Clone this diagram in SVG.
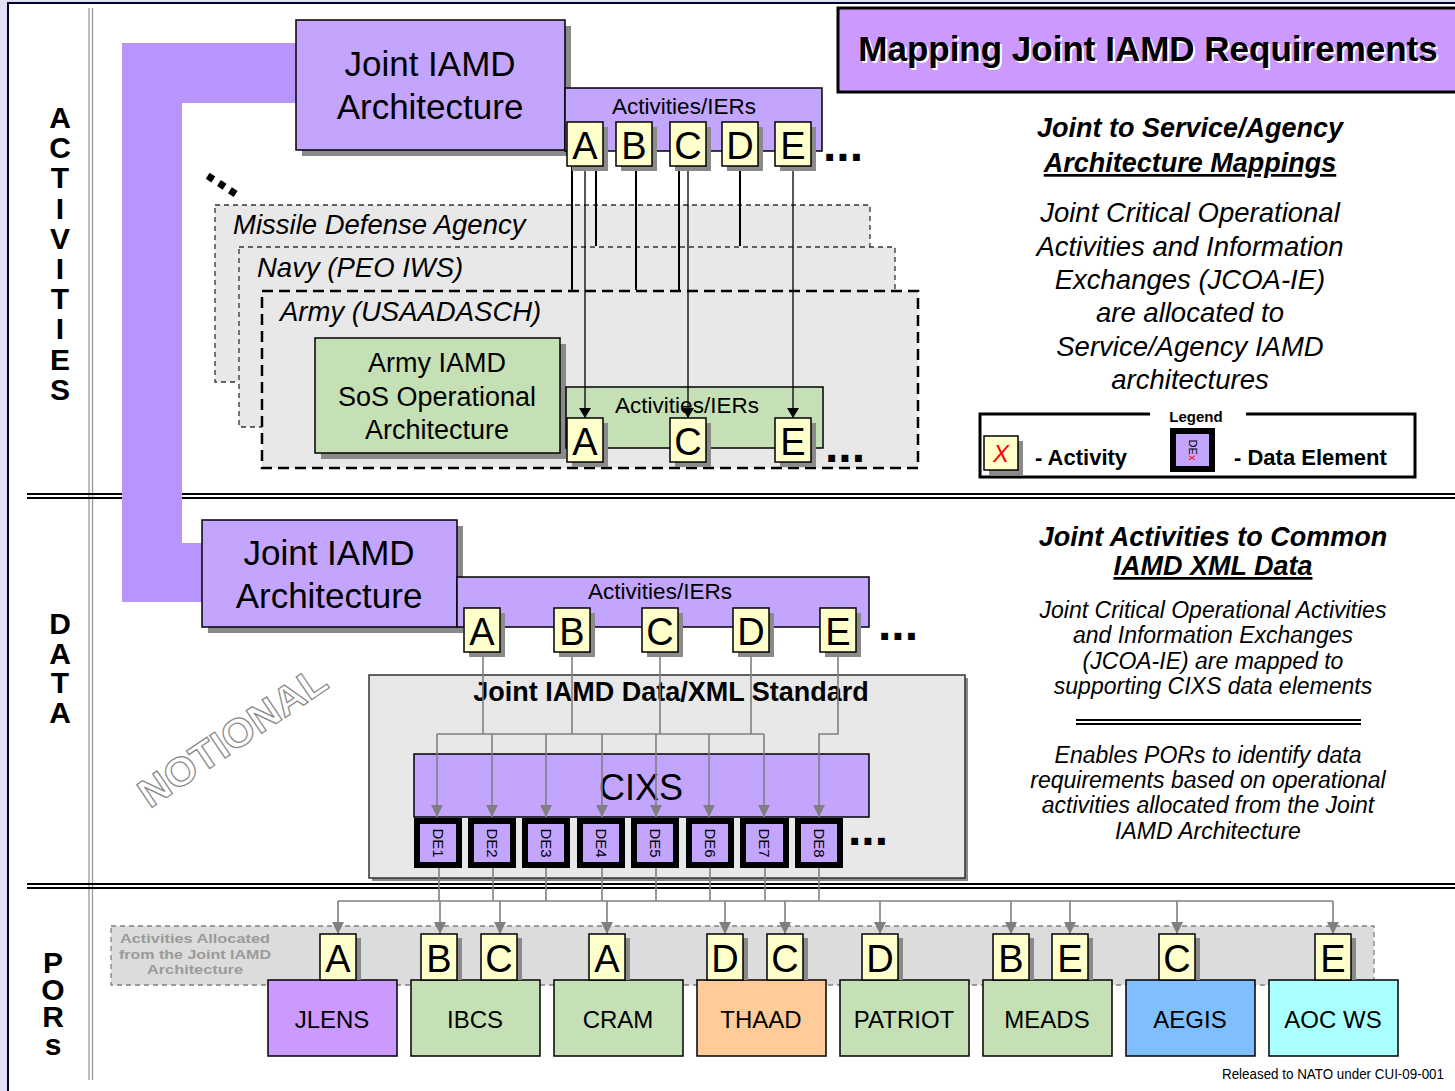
<svg xmlns="http://www.w3.org/2000/svg" width="1455" height="1091" viewBox="0 0 1455 1091">
<defs>
<style>
.f{font-family:"Liberation Sans",Arial,sans-serif}
.sh{fill:#8a8a8a}
.yb{fill:#ffffcc;stroke:#000;stroke-width:1.5}
.lt{font-family:"Liberation Sans",Arial,sans-serif;font-size:38px;text-anchor:middle;fill:#000}
.pb{fill:#c3a5fd;stroke:#000;stroke-width:1.5}
.gb{fill:#c5e0b4;stroke:#000;stroke-width:1.5}
.side{font-family:"Liberation Sans",Arial,sans-serif;font-size:30px;font-weight:bold;writing-mode:vertical-rl;text-orientation:upright}
.ri{font-family:"Liberation Sans",Arial,sans-serif;font-style:italic;text-anchor:middle;fill:#000}
.bk{stroke:#000;stroke-width:2;fill:none}
.bt{stroke:#000;stroke-width:1.3;fill:none}
.gy{stroke:#7f7f7f;stroke-width:1.6;fill:none}
.de{fill:#c3a5fd;stroke:#000;stroke-width:6}
.det{font-family:"Liberation Sans",Arial,sans-serif;font-size:15px;text-anchor:middle}
.por{stroke:#000;stroke-width:1.5}
.pt{font-family:"Liberation Sans",Arial,sans-serif;font-size:24px;text-anchor:middle}
.dots{font-family:"Liberation Sans",Arial,sans-serif;font-size:48px;font-weight:bold}
.alloc{font-family:"Liberation Sans",Arial,sans-serif;font-size:13.5px;font-weight:bold;text-anchor:middle;fill:#9a9a9a}
</style>
<marker id="ab" markerWidth="10" markerHeight="12" refX="10" refY="6" orient="auto" markerUnits="userSpaceOnUse"><path d="M0,0 L10,6 L0,12 z" fill="#000"/></marker>
<marker id="ag" markerWidth="12" markerHeight="12" refX="12" refY="6" orient="auto" markerUnits="userSpaceOnUse"><path d="M0,0 L12,6 L0,12 z" fill="#7f7f7f"/></marker>
</defs>

<!-- frame -->
<rect x="0" y="0" width="1455" height="1091" fill="#e1e1f5"/>
<rect x="8" y="3" width="1460" height="1100" fill="#fff" stroke="#000033" stroke-width="2"/>
<line x1="89" y1="8" x2="89" y2="1080" stroke="#999" stroke-width="1.3"/>
<line x1="92.5" y1="8" x2="92.5" y2="1080" stroke="#999" stroke-width="1.3"/>
<g id="separators">
<line x1="27" y1="494" x2="1455" y2="494" stroke="#000" stroke-width="1.8"/>
<line x1="27" y1="498" x2="1455" y2="498" stroke="#000" stroke-width="1.8"/>
<line x1="27" y1="884" x2="1455" y2="884" stroke="#000" stroke-width="1.8"/>
<line x1="27" y1="888" x2="1455" y2="888" stroke="#000" stroke-width="1.8"/>
</g>

<!-- side labels -->
<text id="side-activities" class="side" x="60" y="101" letter-spacing="-2.8">ACTIVITIES</text>
<text id="side-data" class="side" x="60" y="607" letter-spacing="-3.4">DATA</text>
<text id="side-pors" class="side" x="53" y="946" letter-spacing="-5.8">PORs</text>

<!-- purple band -->
<path id="band" d="M122 43 H296 V103 H182 V543 H202 V602 H122 Z" fill="#b895fc"/>

<!-- title -->
<g id="title">
<rect x="838" y="8" width="620" height="84" fill="#cc99ff" stroke="#000" stroke-width="3"/>
<text class="f" x="1150" y="63" font-size="35" font-weight="bold" text-anchor="middle" fill="#fff">Mapping Joint IAMD Requirements</text>
<text class="f" x="1148" y="61" font-size="35" font-weight="bold" text-anchor="middle">Mapping Joint IAMD Requirements</text>
</g>

<!-- agency containers -->
<g id="mda">
<rect x="215" y="205" width="655" height="177" fill="#e8e8e8" stroke="#333" stroke-width="1.3" stroke-dasharray="5 4"/>
<text class="f" x="233" y="234" font-size="27.5" font-style="italic">Missile Defense Agency</text>
</g>
<g id="navy">
<rect x="239" y="247" width="656" height="180" fill="#e8e8e8" stroke="#333" stroke-width="1.3" stroke-dasharray="5 4"/>
<text class="f" x="257" y="277" font-size="27.5" font-style="italic">Navy (PEO IWS)</text>
</g>
<g id="army">
<rect x="262" y="291" width="656" height="177" fill="#e8e8e8" stroke="#000" stroke-width="2.5" stroke-dasharray="11 6"/>
<text class="f" x="280" y="321" font-size="27.5" font-style="italic">Army (USAADASCH)</text>
</g>

<!-- joint IAMD architecture (activities) -->
<g id="joint-arch-top">
<rect class="sh" x="302" y="26" width="269" height="130"/>
<rect class="pb" x="296" y="20" width="269" height="130"/>
<text class="f" x="430" y="76" font-size="35" text-anchor="middle">Joint IAMD</text>
<text class="f" x="430" y="119" font-size="35" text-anchor="middle">Architecture</text>
</g>
<g id="ier-bar-top">
<rect class="pb" x="565" y="88" width="257" height="63" stroke-width="1.2"/>
<text class="f" x="684" y="114" font-size="22.5" text-anchor="middle">Activities/IERs</text>
</g>

<!-- army SoS -->
<g id="army-sos">
<rect class="sh" x="321" y="344" width="245" height="115"/>
<rect class="gb" x="315" y="338" width="245" height="115"/>
<text class="f" x="437" y="372" font-size="27" text-anchor="middle">Army IAMD</text>
<text class="f" x="437" y="406" font-size="27" text-anchor="middle">SoS Operational</text>
<text class="f" x="437" y="439" font-size="27" text-anchor="middle">Architecture</text>
</g>
<g id="ier-bar-army">
<rect class="gb" x="566" y="387" width="257" height="61" stroke-width="1.2"/>
<text class="f" x="687" y="413" font-size="22.5" text-anchor="middle">Activities/IERs</text>
</g>

<!-- right text 1 -->
<g id="note-1" class="ri">
<text x="1190" y="137" font-size="27" font-weight="bold">Joint to Service/Agency</text>
<text x="1190" y="172" font-size="27" font-weight="bold" text-decoration="underline">Architecture Mappings</text>
<text x="1190" y="222" font-size="27.5">Joint Critical Operational</text>
<text x="1190" y="256" font-size="27.5">Activities and Information</text>
<text x="1190" y="289" font-size="27.5">Exchanges (JCOA-IE)</text>
<text x="1190" y="322" font-size="27.5">are allocated to</text>
<text x="1190" y="356" font-size="27.5">Service/Agency IAMD</text>
<text x="1190" y="389" font-size="27.5">architectures</text>
</g>

<!-- legend -->
<g id="legend">
<path d="M1150 414 H980 V477 H1415 V414 H1246" fill="none" stroke="#000" stroke-width="3"/>
<text class="f" x="1196" y="422" font-size="15" font-weight="bold" text-anchor="middle">Legend</text>
<rect class="sh" x="989" y="441" width="34" height="34"/>
<rect class="yb" x="984" y="436" width="34" height="34"/>
<text class="f" x="1001" y="462" font-size="24" font-style="italic" text-anchor="middle" fill="#ff0000">X</text>
<text class="f" x="1035" y="465" font-size="22" font-weight="bold">- Activity</text>
<rect class="de" x="1173" y="431" width="39" height="38"/>
<text class="f" transform="translate(1189,450) rotate(90)" font-size="11" text-anchor="middle">DE<tspan fill="#ff0000">x</tspan></text>
<text class="f" x="1234" y="465" font-size="22" font-weight="bold">- Data Element</text>
</g>

<!-- data section -->
<g id="joint-arch-data">
<rect class="sh" x="208" y="526" width="255" height="107"/>
<rect class="pb" x="202" y="520" width="255" height="107"/>
<text class="f" x="329" y="565" font-size="35" text-anchor="middle">Joint IAMD</text>
<text class="f" x="329" y="608" font-size="35" text-anchor="middle">Architecture</text>
</g>
<g id="ier-bar-data">
<rect class="pb" x="457" y="577" width="412" height="50" stroke-width="1.2"/>
<text class="f" x="660" y="599" font-size="22.5" text-anchor="middle">Activities/IERs</text>
</g>
<g id="xml-standard">
<rect x="372" y="678" width="596" height="203" fill="#8a8a8a"/>
<rect x="369" y="675" width="596" height="203" fill="#e8e8e8" stroke="#333" stroke-width="1.5"/>
<text class="f" x="671" y="701" font-size="27" font-weight="bold" text-anchor="middle">Joint IAMD Data/XML Standard</text>
</g>
<g id="cixs">
<rect class="pb" x="414" y="754" width="455" height="63" stroke-width="1.2"/>
<text class="f" x="641" y="800" font-size="36" text-anchor="middle">CIXS</text>
</g>

<!-- notional -->
<text id="notional" class="f" transform="translate(240,748) rotate(-34)" font-size="40" font-weight="bold" text-anchor="middle" fill="#fff" stroke="#888" stroke-width="1.2" textLength="218" lengthAdjust="spacingAndGlyphs">NOTIONAL</text>

<!-- right text 2 -->
<g id="note-2" class="ri">
<text x="1213" y="546" font-size="27" font-weight="bold">Joint Activities to Common</text>
<text x="1213" y="575" font-size="27" font-weight="bold" text-decoration="underline">IAMD XML Data</text>
<text x="1213" y="618" font-size="23">Joint Critical Operational Activities</text>
<text x="1213" y="643" font-size="23">and Information Exchanges</text>
<text x="1213" y="669" font-size="23">(JCOA-IE) are mapped to</text>
<text x="1213" y="694" font-size="23">supporting CIXS data elements</text>
<text x="1208" y="763" font-size="23">Enables PORs to identify data</text>
<text x="1208" y="788" font-size="23">requirements based on operational</text>
<text x="1208" y="813" font-size="23">activities allocated from the Joint</text>
<text x="1208" y="839" font-size="23">IAMD Architecture</text>
</g>
<line x1="1076" y1="720" x2="1361" y2="720" stroke="#000" stroke-width="2"/>
<line x1="1076" y1="724" x2="1361" y2="724" stroke="#000" stroke-width="2"/>

<!-- POR allocated band -->
<g id="allocated-band">
<rect x="111" y="926" width="1263" height="59" fill="#dcdcdc" stroke="#808080" stroke-width="1.3" stroke-dasharray="5 4"/>
<text class="alloc" x="195" y="943" textLength="150" lengthAdjust="spacingAndGlyphs">Activities Allocated</text>
<text class="alloc" x="195" y="958.5" textLength="152" lengthAdjust="spacingAndGlyphs">from the Joint IAMD</text>
<text class="alloc" x="195" y="974" textLength="96" lengthAdjust="spacingAndGlyphs">Architecture</text>
</g>

<!-- connectors -->
<g id="connectors">
<path class="bk" d="M572 166 V290"/>
<path class="bt" d="M585 166 V418" marker-end="url(#ab)"/>
<path class="bk" d="M596 166 V246"/>
<path class="bk" d="M636 166 V290"/>
<path class="bk" d="M679 166 V290"/>
<path class="bt" d="M688 166 V418" marker-end="url(#ab)"/>
<path class="bk" d="M740 166 V246"/>
<path class="bt" d="M793 166 V418" marker-end="url(#ab)"/>

<path class="gy" d="M483 652 V734"/>
<path class="gy" d="M572 652 V734"/>
<path class="gy" d="M660 652 V734"/>
<path class="gy" d="M751 652 V734"/>
<path class="gy" d="M437 734 H764"/>
<path class="gy" d="M838 652 V734 H819 V817" marker-end="url(#ag)"/>
<path class="gy" d="M437 734 V817" marker-end="url(#ag)"/>
<path class="gy" d="M492 734 V817" marker-end="url(#ag)"/>
<path class="gy" d="M546 734 V817" marker-end="url(#ag)"/>
<path class="gy" d="M602 734 V817" marker-end="url(#ag)"/>
<path class="gy" d="M656 734 V817" marker-end="url(#ag)"/>
<path class="gy" d="M709 734 V817" marker-end="url(#ag)"/>
<path class="gy" d="M764 734 V817" marker-end="url(#ag)"/>

<path class="gy" d="M439 868 V901"/>
<path class="gy" d="M493 868 V901"/>
<path class="gy" d="M546 868 V901"/>
<path class="gy" d="M602 868 V901"/>
<path class="gy" d="M656 868 V901"/>
<path class="gy" d="M710 868 V901"/>
<path class="gy" d="M765 868 V901"/>
<path class="gy" d="M819 868 V901"/>
<path class="gy" d="M338 901 H1333"/>
<path class="gy" d="M338 901 V934" marker-end="url(#ag)"/>
<path class="gy" d="M440 901 V934" marker-end="url(#ag)"/>
<path class="gy" d="M500 901 V934" marker-end="url(#ag)"/>
<path class="gy" d="M607 901 V934" marker-end="url(#ag)"/>
<path class="gy" d="M725 901 V934" marker-end="url(#ag)"/>
<path class="gy" d="M785 901 V934" marker-end="url(#ag)"/>
<path class="gy" d="M880 901 V934" marker-end="url(#ag)"/>
<path class="gy" d="M1011 901 V934" marker-end="url(#ag)"/>
<path class="gy" d="M1070 901 V934" marker-end="url(#ag)"/>
<path class="gy" d="M1177 901 V934" marker-end="url(#ag)"/>
<path class="gy" d="M1333 901 V934" marker-end="url(#ag)"/>
</g>

<!-- top activity letters -->
<g id="top-A"><rect class="sh" x="572" y="127" width="36" height="44"/><rect class="yb" x="567" y="122" width="36" height="44"/><text class="lt" x="585" y="159">A</text></g>
<g id="top-B"><rect class="sh" x="621" y="127" width="36" height="44"/><rect class="yb" x="616" y="122" width="36" height="44"/><text class="lt" x="634" y="159">B</text></g>
<g id="top-C"><rect class="sh" x="675" y="127" width="36" height="44"/><rect class="yb" x="670" y="122" width="36" height="44"/><text class="lt" x="688" y="159">C</text></g>
<g id="top-D"><rect class="sh" x="727" y="127" width="36" height="44"/><rect class="yb" x="722" y="122" width="36" height="44"/><text class="lt" x="740" y="159">D</text></g>
<g id="top-E"><rect class="sh" x="780" y="127" width="36" height="44"/><rect class="yb" x="775" y="122" width="36" height="44"/><text class="lt" x="793" y="159">E</text></g>
<text class="dots" x="823" y="161">...</text>
<text class="dots" transform="translate(203,177) rotate(33)" font-size="40">...</text>

<!-- army letters -->
<g id="army-A"><rect class="sh" x="572" y="423" width="36" height="44"/><rect class="yb" x="567" y="418" width="36" height="44"/><text class="lt" x="585" y="455">A</text></g>
<g id="army-C"><rect class="sh" x="675" y="423" width="36" height="44"/><rect class="yb" x="670" y="418" width="36" height="44"/><text class="lt" x="688" y="455">C</text></g>
<g id="army-E"><rect class="sh" x="780" y="423" width="36" height="44"/><rect class="yb" x="775" y="418" width="36" height="44"/><text class="lt" x="793" y="455">E</text></g>
<text class="dots" x="825" y="462">...</text>

<!-- data letters -->
<g id="data-A"><rect class="sh" x="469" y="613" width="36" height="44"/><rect class="yb" x="464" y="608" width="36" height="44"/><text class="lt" x="482" y="645">A</text></g>
<g id="data-B"><rect class="sh" x="559" y="613" width="36" height="44"/><rect class="yb" x="554" y="608" width="36" height="44"/><text class="lt" x="572" y="645">B</text></g>
<g id="data-C"><rect class="sh" x="647" y="613" width="36" height="44"/><rect class="yb" x="642" y="608" width="36" height="44"/><text class="lt" x="660" y="645">C</text></g>
<g id="data-D"><rect class="sh" x="738" y="613" width="36" height="44"/><rect class="yb" x="733" y="608" width="36" height="44"/><text class="lt" x="751" y="645">D</text></g>
<g id="data-E"><rect class="sh" x="825" y="613" width="36" height="44"/><rect class="yb" x="820" y="608" width="36" height="44"/><text class="lt" x="838" y="645">E</text></g>
<text class="dots" x="878" y="640">...</text>

<!-- data elements -->
<g id="de1"><rect class="de" x="417" y="821" width="42" height="44"/><text class="det" transform="translate(438,843) rotate(90)" dy="5">DE1</text></g>
<g id="de2"><rect class="de" x="471" y="821" width="42" height="44"/><text class="det" transform="translate(492,843) rotate(90)" dy="5">DE2</text></g>
<g id="de3"><rect class="de" x="525" y="821" width="42" height="44"/><text class="det" transform="translate(546,843) rotate(90)" dy="5">DE3</text></g>
<g id="de4"><rect class="de" x="580" y="821" width="42" height="44"/><text class="det" transform="translate(601,843) rotate(90)" dy="5">DE4</text></g>
<g id="de5"><rect class="de" x="634" y="821" width="42" height="44"/><text class="det" transform="translate(655,843) rotate(90)" dy="5">DE5</text></g>
<g id="de6"><rect class="de" x="689" y="821" width="42" height="44"/><text class="det" transform="translate(710,843) rotate(90)" dy="5">DE6</text></g>
<g id="de7"><rect class="de" x="743" y="821" width="43" height="44"/><text class="det" transform="translate(764,843) rotate(90)" dy="5">DE7</text></g>
<g id="de8"><rect class="de" x="798" y="821" width="42" height="44"/><text class="det" transform="translate(819,843) rotate(90)" dy="5">DE8</text></g>
<text class="dots" x="848" y="845" font-size="44">...</text>

<!-- PORs -->
<g id="por-jlens"><rect class="por" x="268" y="980" width="129" height="76" fill="#cc99ff"/><text class="pt" x="332" y="1028">JLENS</text></g>
<g id="por-ibcs"><rect class="por" x="411" y="980" width="129" height="76" fill="#c5e0b4"/><text class="pt" x="475" y="1028">IBCS</text></g>
<g id="por-cram"><rect class="por" x="554" y="980" width="129" height="76" fill="#c5e0b4"/><text class="pt" x="618" y="1028">CRAM</text></g>
<g id="por-thaad"><rect class="por" x="697" y="980" width="129" height="76" fill="#ffcc99"/><text class="pt" x="761" y="1028">THAAD</text></g>
<g id="por-patriot"><rect class="por" x="840" y="980" width="129" height="76" fill="#c5e0b4"/><text class="pt" x="904" y="1028">PATRIOT</text></g>
<g id="por-meads"><rect class="por" x="983" y="980" width="129" height="76" fill="#c5e0b4"/><text class="pt" x="1047" y="1028">MEADS</text></g>
<g id="por-aegis"><rect class="por" x="1126" y="980" width="129" height="76" fill="#80bfff"/><text class="pt" x="1190" y="1028">AEGIS</text></g>
<g id="por-aocws"><rect class="por" x="1269" y="980" width="129" height="76" fill="#aaffff"/><text class="pt" x="1333" y="1028">AOC WS</text></g>

<!-- POR letters -->
<g id="p-jlens-A"><rect class="sh" x="325" y="938" width="36" height="42"/><rect class="yb" x="320" y="934" width="36" height="46"/><text class="lt" x="338" y="972">A</text></g>
<g id="p-ibcs-B"><rect class="sh" x="426" y="938" width="36" height="42"/><rect class="yb" x="421" y="934" width="36" height="46"/><text class="lt" x="439" y="972">B</text></g>
<g id="p-ibcs-C"><rect class="sh" x="486" y="938" width="36" height="42"/><rect class="yb" x="481" y="934" width="36" height="46"/><text class="lt" x="499" y="972">C</text></g>
<g id="p-cram-A"><rect class="sh" x="594" y="938" width="36" height="42"/><rect class="yb" x="589" y="934" width="36" height="46"/><text class="lt" x="607" y="972">A</text></g>
<g id="p-thaad-D"><rect class="sh" x="712" y="938" width="36" height="42"/><rect class="yb" x="707" y="934" width="36" height="46"/><text class="lt" x="725" y="972">D</text></g>
<g id="p-thaad-C"><rect class="sh" x="772" y="938" width="36" height="42"/><rect class="yb" x="767" y="934" width="36" height="46"/><text class="lt" x="785" y="972">C</text></g>
<g id="p-patriot-D"><rect class="sh" x="867" y="938" width="36" height="42"/><rect class="yb" x="862" y="934" width="36" height="46"/><text class="lt" x="880" y="972">D</text></g>
<g id="p-meads-B"><rect class="sh" x="998" y="938" width="36" height="42"/><rect class="yb" x="993" y="934" width="36" height="46"/><text class="lt" x="1011" y="972">B</text></g>
<g id="p-meads-E"><rect class="sh" x="1057" y="938" width="36" height="42"/><rect class="yb" x="1052" y="934" width="36" height="46"/><text class="lt" x="1070" y="972">E</text></g>
<g id="p-aegis-C"><rect class="sh" x="1164" y="938" width="36" height="42"/><rect class="yb" x="1159" y="934" width="36" height="46"/><text class="lt" x="1177" y="972">C</text></g>
<g id="p-aocws-E"><rect class="sh" x="1320" y="938" width="36" height="42"/><rect class="yb" x="1315" y="934" width="36" height="46"/><text class="lt" x="1333" y="972">E</text></g>

<text class="f" x="1444" y="1079" font-size="14" text-anchor="end" textLength="222" lengthAdjust="spacingAndGlyphs">Released to NATO under CUI-09-001</text>
</svg>
